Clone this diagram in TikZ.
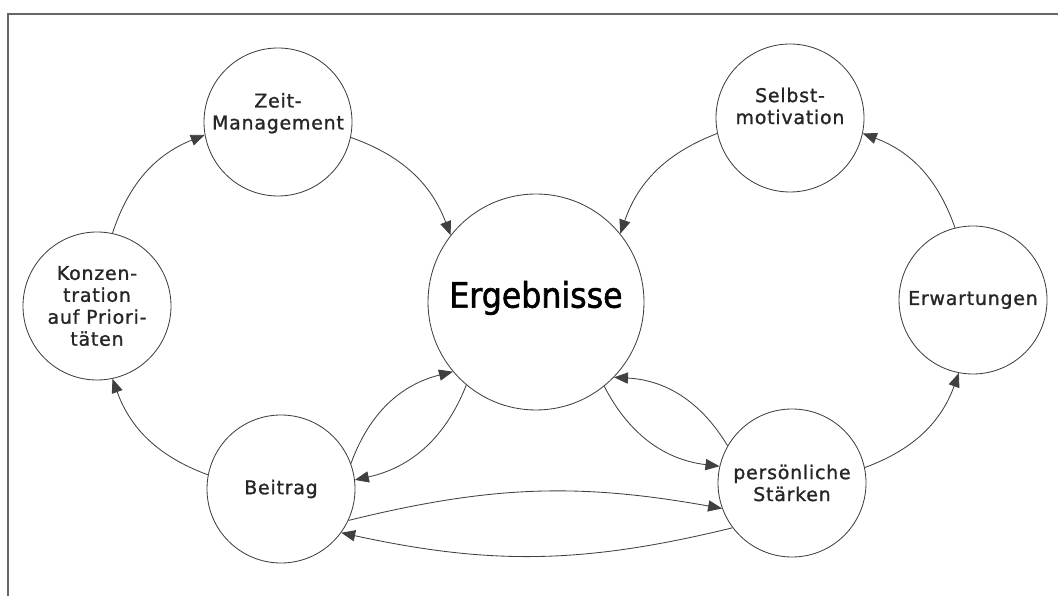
\documentclass[tikz,border=0pt]{standalone}
\usepackage{fontspec}
\setmainfont{DejaVu Sans}[LetterSpace=4, FakeBold=1.2]
\newfontfamily\ergfont{DejaVu Sans Condensed}[FakeBold=1.5]
\usetikzlibrary{arrows.meta}
\tikzset{
    every node/.style={circle, draw=black!75, line width=.6pt, minimum size=3.7cm,
    	inner sep=0pt}
}
\tikzset{every label/.style={draw=none, rectangle, minimum size=0pt, inner sep=1pt,
    align=center, text=black!85, font=\fontsize{13.5}{15.6}\selectfont}}
\tikzset{every edge/.append style={-{Triangle[length=3.5mm, width=2.8mm]},
    draw=black!75, line width=.6pt}}

\begin{document}
\begin{tikzpicture}
  \useasboundingbox (0,0) rectangle (26.45cm, 14.9cm);
  \draw [black!60, line width=1.4pt] (0.2cm, 0cm) |- (26.45cm, 14.55cm);

  \node (zeit) [label={[yshift=0.22cm]center:Zeit-\\Management}] at (6.95cm, 11.85cm) {};
  \node (selbst) [label={[yshift=0.3cm]center:Selbst-\\motivation}] at (19.75cm, 11.95cm) {};
  \node (erg) [minimum size=5.4cm,
    label={[yshift=0.1cm, text=black, font=\ergfont\fontsize{25}{28}\selectfont]center:Ergebnisse}]
    at (13.4cm, 7.35cm) {};
  \node (konz) [label={center:Konzen-\\tration\\auf Priori-\\täten}] at (2.425cm, 7.25cm) {};
  \node (beitrag) [label=center:Beitrag] at (7.025cm, 2.675cm) {};
  \node (staerken) [label={center:persönliche\\Stärken}] at (19.8cm, 2.825cm) {};
  \node (erw) [label=center:Erwartungen] at (24.325cm, 7.4cm) {};

  \draw (konz.78) edge [bend left=25] (zeit.190);
  \draw (zeit.348) edge [bend left=25] (erg.142);
  \draw (selbst.192) edge [bend right=25] (erg.39);
  \draw (erw.104) edge [bend right=25] (selbst.348);
  \draw (staerken.12) edge [bend right=25] (erw.259);
  \draw (beitrag.169) edge [bend left=25] (konz.282);

  \draw (beitrag.20) edge [bend left=28] (erg.220);
  \draw (erg.230) edge [bend left=28] (beitrag.7);
  \draw (erg.309) edge [bend right=28] (staerken.167);
  \draw (staerken.150) edge [bend right=28] (erg.316);
  \draw (beitrag.335) edge [bend left=12] (staerken.200);
  \draw (staerken.217) edge [bend left=13] (beitrag.324);
\end{tikzpicture}
\end{document}
